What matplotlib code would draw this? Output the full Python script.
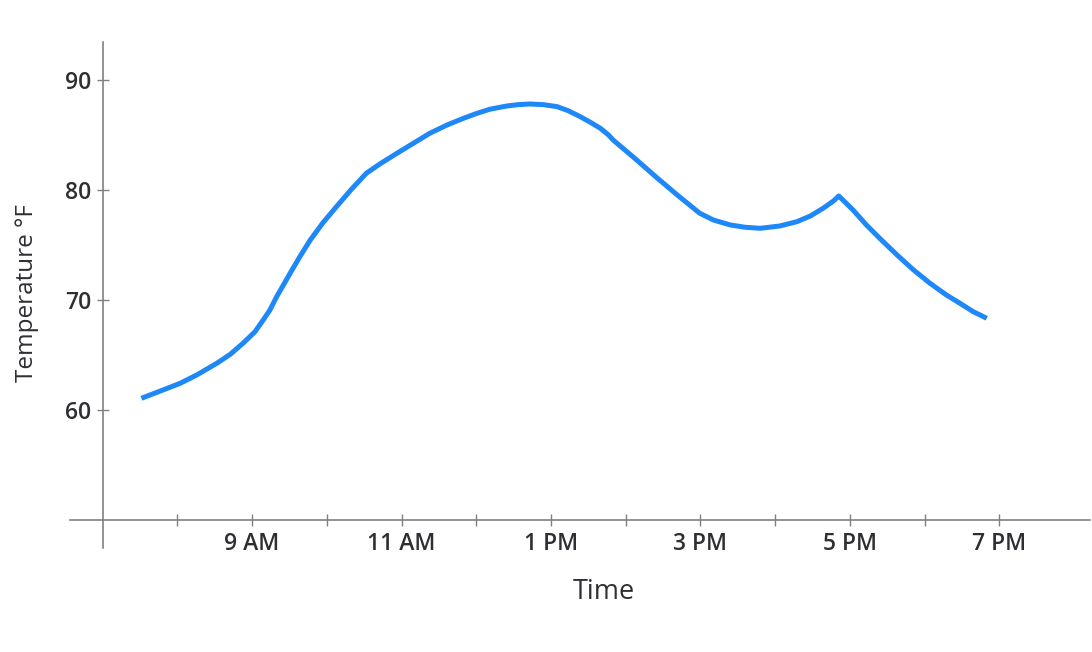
import numpy as np
import matplotlib
matplotlib.use("Agg")
import matplotlib.pyplot as plt

# readings (hour of day, deg F)
hours = [7.52, 7.81, 8.04, 8.26, 8.53, 8.71, 8.88, 9.04, 9.15, 9.24,
         9.33, 9.42, 9.51, 9.64, 9.78, 9.95, 10.13, 10.33, 10.53, 10.71,
         10.94, 11.16, 11.38, 11.61, 11.83, 12.01, 12.18, 12.41, 12.56, 12.72,
         12.90, 13.08, 13.23, 13.39, 13.52, 13.66, 13.77, 13.83, 14.12, 14.41,
         14.70, 14.99, 15.17, 15.40, 15.60, 15.80, 16.06, 16.29, 16.47, 16.64,
         16.78, 16.85, 17.04, 17.22, 17.42, 17.63, 17.85, 18.07, 18.29, 18.47,
         18.65, 18.83]
temps = [61.07, 61.83, 62.44, 63.19, 64.26, 65.08, 66.08, 67.13, 68.20, 69.11,
         70.32, 71.38, 72.45, 73.96, 75.48, 77.05, 78.51, 80.09, 81.55, 82.39,
         83.37, 84.28, 85.19, 85.94, 86.55, 87.00, 87.37, 87.67, 87.79, 87.85,
         87.79, 87.61, 87.24, 86.70, 86.21, 85.64, 85.03, 84.58, 82.91, 81.18,
         79.51, 77.91, 77.30, 76.84, 76.63, 76.54, 76.75, 77.14, 77.66, 78.36,
         79.03, 79.48, 78.21, 76.84, 75.48, 74.11, 72.75, 71.54, 70.47, 69.72,
         68.95, 68.35]

x_ticks = list(range(8, 20))
x_labels = ["", "9 AM", "", "11 AM", "", "1 PM", "", "3 PM", "", "5 PM", "", "7 PM"]
y_ticks = [60, 70, 80, 90]

plt.rcParams['font.family'] = ['Open Sans', 'DejaVu Sans']
txt = "#2f2f33"
axis_c = "#808080"

W, H = 1092, 652
fig = plt.figure(figsize=(W / 100, H / 100), dpi=100)
# axes box = extent of the drawn axis lines
ax = fig.add_axes([70 / W, 1 - 548 / H, (1090 - 70) / W, (548 - 42) / H])

ax.plot(hours, temps, color="#1e88f8", lw=3.6, solid_joinstyle="round",
        solid_capstyle="butt")

ax.set_xlim(6.565, 20.211)
ax.set_ylim(47.45, 93.49)

for s in ["top", "right"]:
    ax.spines[s].set_visible(False)
ax.spines["left"].set_position(("data", 7))
ax.spines["bottom"].set_position(("data", 50))
for s in ["left", "bottom"]:
    ax.spines[s].set_color(axis_c)
    ax.spines[s].set_linewidth(1.2)

ax.set_xticks(x_ticks)
ax.set_xticklabels(x_labels)
ax.set_yticks(y_ticks)
ax.tick_params(axis="both", direction="inout", length=8, width=1.0,
               color=axis_c, labelcolor=txt, labelsize=16.5)
ax.tick_params(axis="x", pad=5)
ax.tick_params(axis="y", pad=4)
for lab in ax.get_xticklabels() + ax.get_yticklabels():
    lab.set_fontweight("semibold")

fig.text(604 / W, 1 - 592 / H, "Time", ha="center", va="center",
         fontsize=19.5, color=txt)
fig.text(27 / W, 1 - 293 / H, "Temperature °F", ha="center", va="center",
         rotation=90, fontsize=17.5, color=txt)

fig.savefig("out.png", dpi=100)
